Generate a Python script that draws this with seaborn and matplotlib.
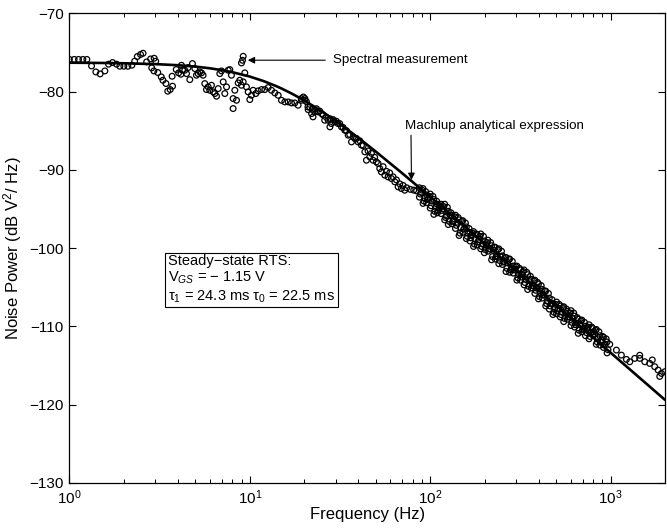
import numpy as np
import pandas as pd
import matplotlib
matplotlib.use("Agg")
import matplotlib.pyplot as plt
import seaborn as sns
from matplotlib.ticker import LogLocator, NullFormatter

# ---------------- data ----------------
# low-frequency spectral points
f_low = [1.00, 1.063, 1.124, 1.188, 1.25, 1.327, 1.402, 1.481, 1.573, 1.649, 1.735,
         1.826, 1.905, 2.004, 2.11, 2.22, 2.30, 2.38, 2.48, 2.56, 2.68, 2.82, 2.95,
         3.01, 2.86, 2.94, 3.09, 3.23, 3.30, 3.43, 3.51, 3.62, 3.73, 3.71, 3.91,
         4.03, 4.15, 4.24]
db_low = [-75.9, -75.9, -75.9, -75.9, -75.9, -76.73, -77.5, -77.75, -77.37, -76.51,
          -76.30, -76.51, -76.77, -76.77, -76.77, -76.64, -76.13, -75.53, -75.27,
          -75.11, -76.22, -75.84, -75.75, -76.13, -76.98, -77.37, -77.57, -78.13,
          -78.56, -78.98, -79.96, -79.75, -79.32, -78.05, -77.19, -77.62, -77.79,
          -77.28]

# 4 - 21 Hz spectral points
f_mid = [4.18, 4.36, 4.46, 4.65, 4.55, 4.81, 4.96, 5.06, 5.17, 5.28, 5.40, 5.51, 5.63,
         5.75, 5.88, 6.00, 6.13, 6.27, 6.40, 6.54, 6.68, 6.82, 6.97, 7.12, 7.27, 7.43,
         7.59, 7.75, 7.91, 8.08, 8.08, 8.26, 8.44, 8.62, 8.80, 8.99, 9.19, 9.38, 9.58,
         9.79, 10.0, 10.21, 10.43, 10.80, 11.12, 11.61, 12.11, 12.64, 13.18, 13.76,
         14.36, 14.98, 15.63, 16.31, 17.02, 17.76, 18.52, 19.33, 20.17, 21.05,
         9.19, 9.11, 8.99]
db_mid = [-76.65, -77.28, -77.71, -78.48, -76.94, -76.43, -77.07, -77.92, -77.71,
          -77.50, -77.62, -77.92, -78.99, -79.75, -79.41, -79.84, -79.20, -80.05,
          -80.26, -80.60, -79.63, -77.71, -77.37, -78.77, -80.26, -79.41, -77.28,
          -77.20, -77.92, -80.90, -82.18, -79.84, -81.12, -78.90, -78.56, -79.20,
          -78.77, -77.62, -79.41, -80.05, -81.03, -80.48, -79.84, -80.26, -79.92,
          -79.75, -79.75, -79.50, -79.84, -80.18, -80.48, -81.12, -81.33, -81.33,
          -81.46, -81.46, -81.75, -81.12, -81.12, -82.31,
          -75.50, -76.01, -76.35]

# 19 - 84 Hz spectral points
f_knee = [19.3, 20.2, 21.0, 22.0, 22.4, 22.9, 23.9, 25.0, 26.0, 27.2, 27.8, 28.3, 29.6,
          30.8, 32.2, 33.6, 35.1, 36.6, 38.2, 39.8, 41.6, 43.4, 44.3, 46.2, 48.2,
          50.3, 52.5, 53.6, 56.0, 58.4, 60.9, 63.6, 66.4, 69.2, 72.2]
db_knee = [-80.90, -80.90, -81.97, -82.82, -83.24, -82.60, -82.60, -82.82, -83.67,
           -83.67, -84.52, -84.09, -83.88, -84.09, -84.52, -84.95, -85.58, -86.44,
           -86.01, -86.44, -86.86, -87.71, -88.78, -88.35, -88.78, -88.99, -89.84,
           -90.27, -90.69, -90.91, -91.12, -91.54, -92.18, -92.40, -92.61]
f_knee2 = [19.8, 20.6, 21.5, 22.2, 23.4, 24.4, 25.5, 26.6, 28.0, 29.0, 30.2, 31.5,
           32.9, 34.3, 35.8, 37.4, 39.0, 40.7, 42.5, 45.2, 47.2, 49.2, 51.4, 54.8,
           57.2, 59.6, 62.2, 65.0, 67.8, 70.7, 74.0, 77.5, 81.0, 84.0]
db_knee2 = [-80.7, -81.3, -82.0, -82.3, -82.2, -82.5, -83.0, -83.3, -83.5, -83.6,
            -83.8, -84.1, -84.6, -85.0, -85.5, -85.8, -86.0, -86.3, -86.9, -87.6,
            -87.9, -88.4, -89.2, -89.6, -90.2, -90.4, -90.9, -91.3, -91.8, -92.0,
            -92.3, -92.5, -92.6, -92.7]

# dense band 87 - 990 Hz
f_band = [87.1, 91.2, 95.5, 100.0, 104.7, 109.6, 114.8, 120.2, 125.9, 131.8, 138.0,
          144.5, 151.4, 158.5, 166.0, 173.8, 182.0, 190.5, 199.5, 208.9, 218.8, 229.1,
          239.9, 251.2, 263.0, 275.4, 288.4, 302.0, 316.2, 331.1, 346.7, 363.1, 380.2,
          398.1, 416.9, 436.5, 457.1, 478.6, 501.2, 524.8, 549.5, 575.4, 602.6, 631.0,
          660.7, 691.8, 724.4, 758.6, 794.3, 831.8, 871.0, 912.0, 955.0]
db_band_hi = [-92.3, -92.4, -93.2, -93.1, -93.8, -94.4, -94.4, -94.4, -95.3, -95.8,
              -95.8, -96.4, -96.5, -97.3, -98.0, -97.9, -98.3, -98.2, -99.1, -99.0,
              -99.7, -99.9, -100.1, -101.0, -101.2, -101.4, -102.3, -102.3, -102.8,
              -102.8, -103.4, -104.0, -104.1, -104.6, -105.3, -105.5, -106.4, -107.1,
              -106.9, -107.4, -107.5, -108.1, -108.0, -108.7, -109.1, -109.2, -110.0,
              -109.8, -110.3, -110.4, -111.2, -111.4, -112.0]
db_band_lo = [-93.5, -94.3, -94.2, -94.9, -95.7, -95.5, -95.6, -96.4, -97.0, -96.9,
              -97.5, -98.4, -98.0, -98.8, -99.1, -99.8, -99.6, -100.1, -100.6, -100.4,
              -101.5, -101.4, -102.0, -102.1, -103.0, -103.1, -103.2, -104.1, -104.1,
              -104.7, -105.3, -105.1, -105.8, -106.5, -106.4, -107.4, -107.8, -108.5,
              -108.4, -108.8, -109.4, -109.1, -109.9, -110.1, -110.9, -110.7, -111.2,
              -111.6, -111.1, -112.3, -112.4, -112.7, -113.4]
f_band2 = [89.1, 93.3, 97.7, 102.3, 107.2, 112.2, 117.5, 123.0, 128.8, 134.9, 141.3,
           147.9, 154.9, 162.2, 169.8, 177.8, 186.2, 195.0, 204.2, 213.8, 223.9, 234.4,
           245.5, 257.0, 269.2, 281.8, 295.1, 309.0, 323.6, 338.8, 354.8, 371.5, 389.0,
           407.4, 426.6, 446.7, 467.7, 489.8, 512.9, 537.0, 562.3, 588.8, 616.6, 645.7,
           676.1, 707.9, 741.3, 776.2, 812.8, 851.1, 891.3, 933.3]
db_band2 = [-92.9, -93.6, -93.7, -94.0, -94.8, -94.8, -95.0, -95.9, -95.8, -96.5, -96.7,
            -97.4, -97.5, -98.1, -98.3, -98.9, -98.9, -99.5, -99.6, -100.1, -100.3,
            -101.0, -101.1, -101.7, -101.9, -102.6, -102.7, -103.3, -103.4, -104.0,
            -104.1, -104.8, -105.0, -105.7, -106.0, -106.8, -107.1, -107.7, -107.7,
            -108.2, -108.3, -108.8, -109.0, -109.6, -109.7, -110.3, -110.3, -110.8,
            -111.0, -111.6, -111.7, -112.3]
f_band3 = [88.1, 92.3, 96.6, 101.2, 105.9, 110.9, 116.1, 121.6, 127.4, 133.3, 139.6,
           146.2, 153.2, 160.3, 167.9, 175.8, 184.1, 192.7, 201.8, 211.3, 221.3, 231.8,
           242.7, 254.1, 266.1, 278.6, 291.7, 305.5, 319.9, 334.9, 350.7, 367.3, 384.6,
           402.7, 421.7, 441.6, 462.4, 484.2, 507.0, 530.9, 555.9, 582.1, 609.6, 638.3,
           668.4, 699.8, 732.8, 767.4, 803.5, 841.4, 881.1, 922.6, 966.1]
db_band3 = [-93.1, -94.0, -93.8, -94.6, -95.3, -95.2, -95.2, -96.1, -96.6, -96.6, -97.1,
            -98.1, -97.6, -98.5, -98.7, -99.5, -99.2, -99.8, -100.2, -100.1, -101.1,
            -101.1, -101.6, -101.8, -102.6, -102.8, -102.8, -103.8, -103.7, -104.4,
            -104.9, -104.8, -105.4, -106.2, -106.0, -107.1, -107.4, -108.2, -108.0,
            -108.5, -109.0, -108.8, -109.5, -109.8, -110.5, -110.4, -110.8, -111.3,
            -110.7, -112.0, -112.0, -112.4, -113.0]
f_band4 = [90.2, 94.4, 98.9, 103.5, 108.4, 113.4, 118.8, 124.4, 130.3, 136.4, 142.8,
           149.6, 156.7, 164.1, 171.8, 179.9, 188.4, 197.2, 206.5, 216.2, 226.5, 237.1,
           248.3, 260.0, 272.2, 285.1, 298.5, 312.6, 327.3, 342.7, 358.9, 375.8, 393.5,
           412.1, 431.5, 451.8, 473.1, 495.4, 518.8, 543.2, 568.8, 595.6, 623.8, 653.1,
           683.9, 716.1, 749.8, 785.2, 822.2, 861.0, 901.6, 944.0, 988.5]
db_band4 = [-92.6, -92.8, -93.4, -93.4, -94.0, -94.6, -94.7, -94.8, -95.5, -96.0, -96.1,
            -96.6, -96.8, -97.5, -98.1, -98.2, -98.5, -98.5, -99.3, -99.3, -99.9,
            -100.2, -100.4, -101.2, -101.4, -101.7, -102.4, -102.6, -103.0, -103.1,
            -103.6, -104.2, -104.4, -104.8, -105.5, -105.8, -106.6, -107.2, -107.2,
            -107.6, -107.8, -108.3, -108.3, -108.9, -109.3, -109.5, -110.1, -110.1,
            -110.5, -110.7, -111.3, -111.6, -112.3]

# high-frequency tail
f_tail = [1076, 1146, 1222, 1276, 1359, 1449, 1545, 1645, 1754, 1832, 1911, 1995,
          1449, 1700, 1870]
db_tail = [-113.04, -113.68, -114.23, -114.53, -114.10, -114.10, -114.53, -114.74,
           -115.16, -115.59, -116.02, -115.80, -113.7, -114.3, -116.4]

# Machlup analytical expression
f_fit = [1, 1.5, 2, 3, 4, 5, 6, 7, 8, 10, 12, 14, 15, 17, 20, 25, 30, 40, 50, 70, 100,
         150, 200, 300, 500, 700, 1000, 1500, 2000]
db_fit = [-76.32, -76.35, -76.39, -76.50, -76.64, -76.82, -77.03, -77.27, -77.53,
          -78.09, -78.69, -79.31, -79.62, -80.24, -81.13, -82.52, -83.77, -85.92,
          -87.69, -90.45, -93.46, -96.94, -99.42, -102.93, -107.36, -110.28, -113.38,
          -116.90, -119.40]

y_ticks = [-130, -120, -110, -100, -90, -80, -70]

# ---------------- plotting ----------------
sns.set_theme(style="ticks")
plt.rcParams["font.family"] = ["Liberation Sans", "DejaVu Sans"]
plt.rcParams["mathtext.fontset"] = "custom"
plt.rcParams["mathtext.rm"] = "Liberation Sans"
plt.rcParams["mathtext.it"] = "Liberation Sans:italic"
plt.rcParams["mathtext.bf"] = "Liberation Sans:bold"
plt.rcParams["text.color"] = "black"
plt.rcParams["axes.labelcolor"] = "black"
plt.rcParams["xtick.color"] = "black"
plt.rcParams["ytick.color"] = "black"

meas = pd.DataFrame({
    "f": f_low + f_mid + f_knee + f_knee2 + f_band + f_band + f_band2 + f_band3
         + f_band4 + f_tail,
    "db": db_low + db_mid + db_knee + db_knee2 + db_band_hi + db_band_lo + db_band2
          + db_band3 + db_band4 + db_tail,
})
fit = pd.DataFrame({"f": f_fit, "db": db_fit})

fig, ax = plt.subplots(figsize=(6.67, 5.3), dpi=100)
fig.subplots_adjust(left=0.104, right=0.997, top=0.975, bottom=0.089)

sns.scatterplot(data=meas, x="f", y="db", ax=ax, s=17, marker="o",
                linewidth=0.9, legend=False, zorder=2)
coll = ax.collections[0]
coll.set_facecolor("none")
coll.set_edgecolor("black")

sns.lineplot(data=fit, x="f", y="db", ax=ax, color="black", linewidth=1.9,
             legend=False, zorder=3)

ax.set_xscale("log")
ax.set_xlim(1, 2000)
ax.set_ylim(-130, -70)
ax.set_yticks(y_ticks)
ax.xaxis.set_major_locator(LogLocator(base=10, numticks=10))
ax.xaxis.set_minor_locator(LogLocator(base=10, subs=[2, 3, 4, 5, 6, 7, 8, 9], numticks=100))
ax.xaxis.set_minor_formatter(NullFormatter())

for side in ["top", "right", "bottom", "left"]:
    ax.spines[side].set_visible(True)
    ax.spines[side].set_linewidth(0.9)
    ax.spines[side].set_color("black")
ax.tick_params(which="major", direction="in", length=5, width=0.8,
               top=True, right=True, labelsize=11, colors="black", pad=4)
ax.tick_params(axis="x", which="minor", direction="in", length=3, width=0.7,
               top=True, bottom=True, colors="black")

ax.set_xlabel("Frequency (Hz)", fontsize=12, labelpad=0, color="black")
ax.set_ylabel("Noise Power (dB V$^2$/ Hz)", fontsize=12, labelpad=4, color="black")

ax.annotate("Spectral measurement", xy=(9.75, -76.0), xytext=(28.8, -76.0),
            fontsize=9.6, va="center", ha="left", color="black",
            arrowprops=dict(arrowstyle="-|>", color="black", lw=0.8,
                            mutation_scale=10, shrinkA=3, shrinkB=0))
ax.annotate("Machlup analytical expression", xy=(78.7, -91.3), xytext=(72.2, -84.4),
            fontsize=9.6, va="center", ha="left", color="black",
            arrowprops=dict(arrowstyle="-|>", color="black", lw=0.8,
                            mutation_scale=10, shrinkA=0, shrinkB=0,
                            relpos=(0.035, 0.0)))

ax.text(0.166, 0.487,
        "Steady\u2212state RTS:\nV$_{GS}$ = \u2212 1.15 V\n\u03c4$_1$ = 24.3 ms \u03c4$_0$ = 22.5 ms",
        transform=ax.transAxes, fontsize=10.5, va="top", ha="left", linespacing=1.15,
        color="black",
        bbox=dict(boxstyle="square,pad=0.2", fc="white", ec="black", lw=0.8))

fig.savefig("out.png", dpi=100)
